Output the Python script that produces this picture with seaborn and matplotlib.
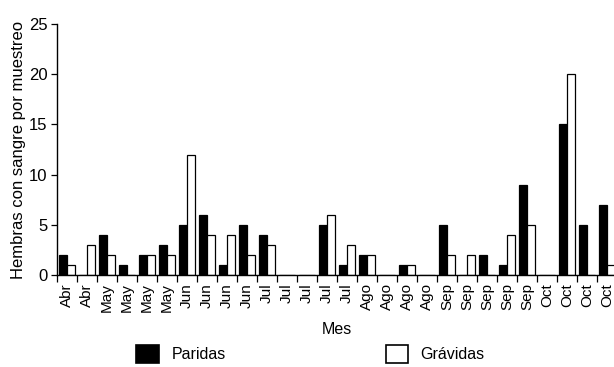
import numpy as np
import pandas as pd
import seaborn as sns
import matplotlib
matplotlib.use("Agg")
import matplotlib.pyplot as plt
from matplotlib.patches import Patch

# Monthly sampling labels (one per sampling event)
meses = ["Abr", "Abr",
         "May", "May", "May", "May",
         "Jun", "Jun", "Jun", "Jun",
         "Jul", "Jul", "Jul", "Jul", "Jul",
         "Ago", "Ago", "Ago", "Ago",
         "Sep", "Sep", "Sep", "Sep", "Sep",
         "Oct", "Oct", "Oct", "Oct"]

# Blood-fed females per sample
paridas = [2, 0, 4, 1, 2, 3, 5, 6, 1, 5, 4, 0, 0, 5, 1,
           2, 0, 1, 0, 5, 0, 2, 1, 9, 0, 15, 5, 7]
gravidas = [1, 3, 2, 0, 2, 2, 12, 4, 4, 2, 3, 0, 0, 6, 3,
            2, 0, 1, 0, 2, 2, 0, 4, 5, 0, 20, 0, 1]

series = ["Paridas", "Grávidas"]
colores = {"Paridas": "black", "Grávidas": "white"}

n = len(meses)
df = pd.DataFrame({
    "muestreo": list(range(n)) * 2,
    "estado": [series[0]] * n + [series[1]] * n,
    "hembras": paridas + gravidas,
})

sns.set_theme(style="ticks", rc={"text.color": "black", "axes.labelcolor": "black",
                                 "xtick.color": "black", "ytick.color": "black"})
plt.rcParams["font.family"] = ["Liberation Sans", "DejaVu Sans"]

fig = plt.figure(figsize=(6.14, 3.67), dpi=100)
ax = fig.add_axes([57 / 614, (367 - 275) / 367, 560 / 614, 251 / 367])

sns.barplot(data=df, x="muestreo", y="hembras", hue="estado",
            hue_order=series, palette=colores, order=list(range(n)),
            width=0.8, edgecolor="black", linewidth=0.9,
            saturation=1, legend=False, ax=ax)

ax.set_xlim(-0.5, n - 0.5)
ax.set_ylim(0, 25)
ax.set_yticks([0, 5, 10, 15, 20, 25])
ax.tick_params(axis="y", labelsize=12, length=4, width=0.9, pad=3)

# Month labels centred on each sample, ticks at the boundaries
ax.set_xticks(np.arange(n))
ax.set_xticklabels(meses, rotation=90, fontsize=11)
ax.tick_params(axis="x", which="major", length=0, pad=6)
ax.set_xticks(np.arange(-0.5, n, 1), minor=True)
ax.tick_params(axis="x", which="minor", length=5, width=0.9)

for s in ["top", "right"]:
    ax.spines[s].set_visible(False)
for s in ["left", "bottom"]:
    ax.spines[s].set_linewidth(1.0)
    ax.spines[s].set_color("black")

ax.set_xlabel("Mes", fontsize=11.5, labelpad=7)
ax.set_ylabel("Hembras con sangre por muestreo", fontsize=12, labelpad=2)

handles = [Patch(facecolor=colores[s], edgecolor="black", linewidth=1.2, label=s)
           for s in series]
fig.legend(handles=handles, loc="center left", bbox_to_anchor=(130 / 614, 1 - 354 / 367),
           ncol=2, frameon=False, fontsize=11.5, handlelength=1.4, handleheight=1.4,
           handletextpad=0.8, columnspacing=10.0, borderaxespad=0)

fig.savefig("out.png", dpi=100)
